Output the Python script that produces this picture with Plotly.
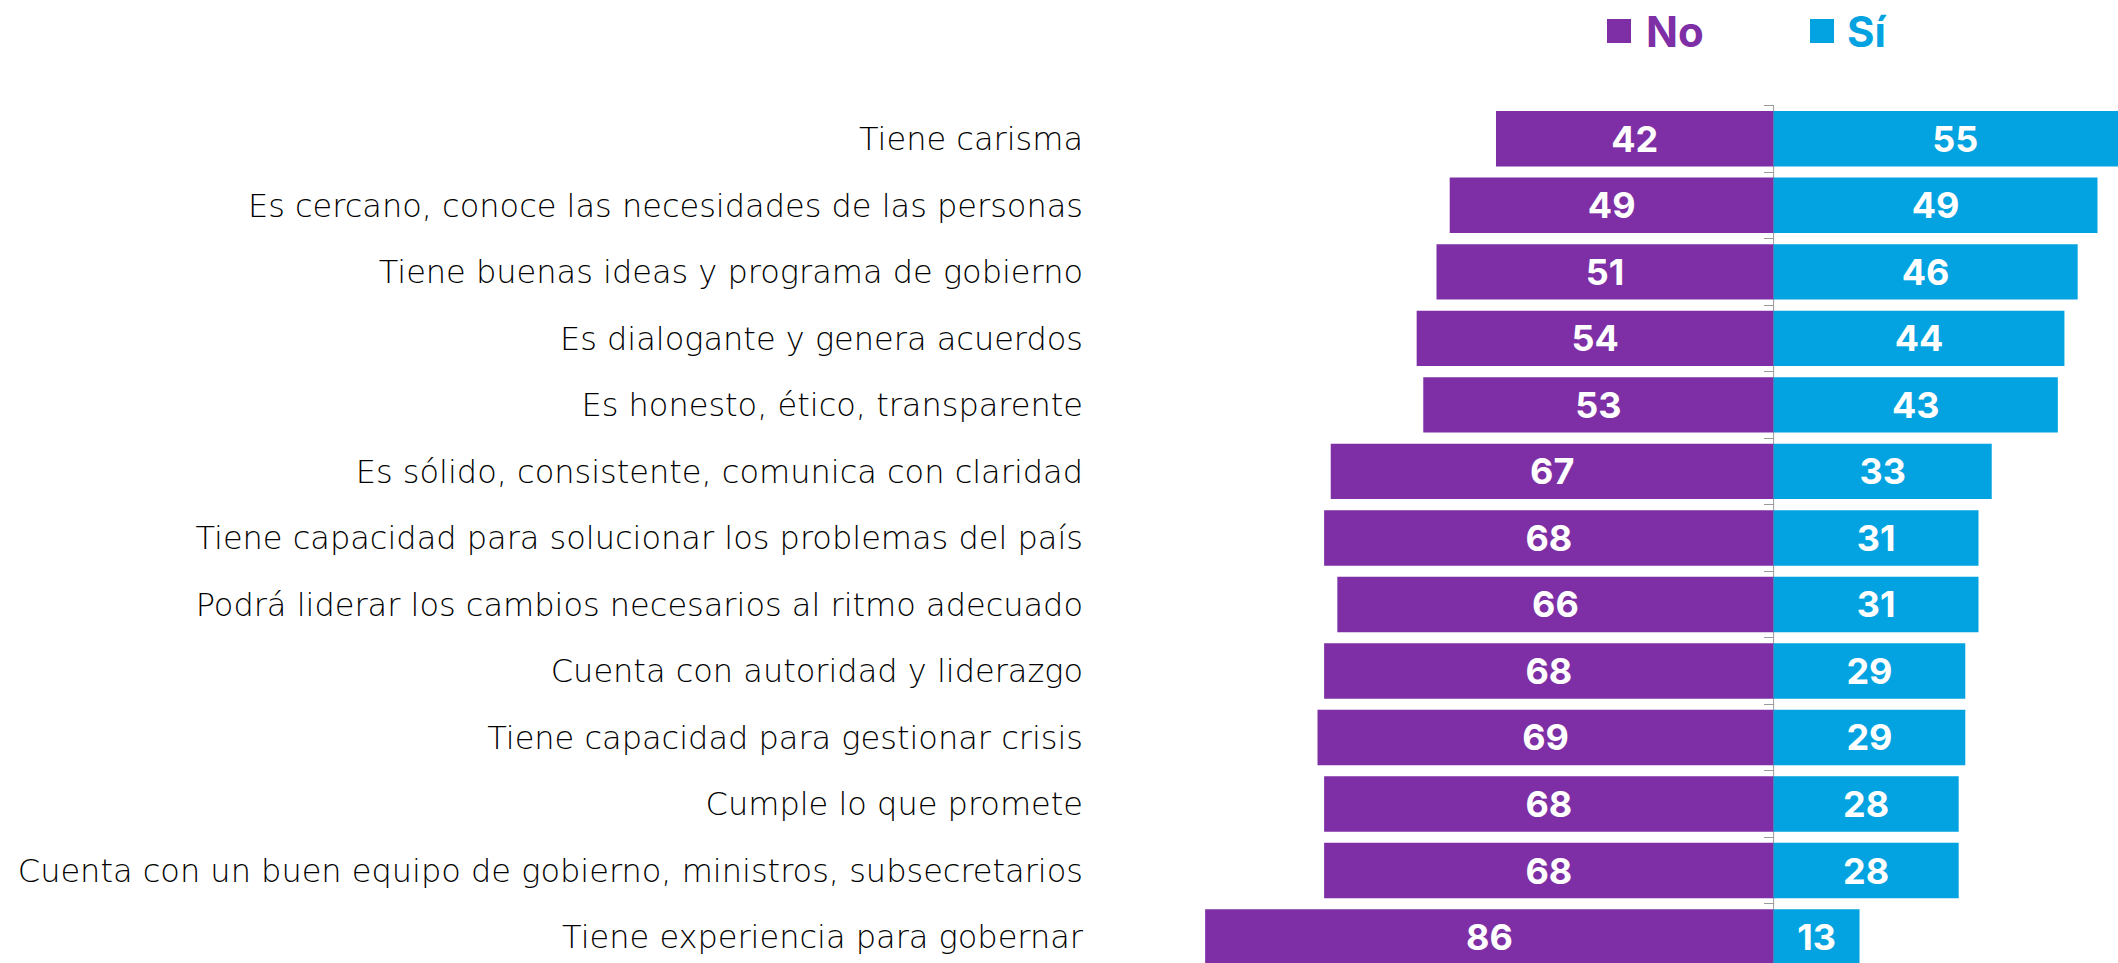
import plotly.graph_objects as go

categories = [
    "Tiene carisma",
    "Es cercano, conoce las necesidades de las personas",
    "Tiene buenas ideas y programa de gobierno",
    "Es dialogante y genera acuerdos",
    "Es honesto, ético, transparente",
    "Es sólido, consistente, comunica con claridad",
    "Tiene capacidad para solucionar los problemas del país",
    "Podrá liderar los cambios necesarios al ritmo adecuado",
    "Cuenta con autoridad y liderazgo",
    "Tiene capacidad para gestionar crisis",
    "Cumple lo que promete",
    "Cuenta con un buen equipo de gobierno, ministros, subsecretarios",
    "Tiene experiencia para gobernar",
]
no_values = [42, 49, 51, 54, 53, 67, 68, 66, 68, 69, 68, 68, 86]
si_values = [55, 49, 46, 44, 43, 33, 31, 31, 29, 29, 28, 28, 13]

PURPLE = "#7E2FA5"
BLUE = "#02A3E0"
FONT = "Inter"
LABEL_FONT = "DejaVu Sans"

W, H = 2118, 963
ML, MR, MT, MB = 1095, 0, 90, 0
center_px = 1773.6
px_per_unit = 6.61
x_lo = -(center_px - ML) / px_per_unit
x_hi = (W - MR - center_px) / px_per_unit
row_px = 66.52
first_center = 138.8
n = len(categories)
y_top = -(first_center - MT) / row_px
y_bot = (n - 1) + (H - MB - (first_center + (n - 1) * row_px)) / row_px

fig = go.Figure()
fig.add_trace(go.Bar(
    y=categories, x=[-v for v in no_values], orientation="h", name="No",
    marker=dict(color=PURPLE, line=dict(width=0)),
    text=[str(v) for v in no_values], textposition="inside",
    insidetextanchor="middle", textangle=0,
    textfont=dict(family=FONT, size=36, color="white", weight="bold"),
    hoverinfo="skip",
))
fig.add_trace(go.Bar(
    y=categories, x=si_values, orientation="h", name="Sí",
    marker=dict(color=BLUE, line=dict(width=0)),
    text=[str(v) for v in si_values], textposition="inside",
    insidetextanchor="middle", textangle=0,
    textfont=dict(family=FONT, size=36, color="white", weight="bold"),
    hoverinfo="skip",
))
# dummy trace to carry the centre tick axis
fig.add_trace(go.Scatter(
    y=categories, x=[0] * n, yaxis="y2", mode="markers",
    marker=dict(opacity=0), showlegend=False, hoverinfo="skip",
))

pos = (center_px - ML) / (W - ML - MR)

fig.update_layout(
    width=W, height=H,
    margin=dict(l=ML, r=MR, t=MT, b=MB, pad=0),
    paper_bgcolor="white", plot_bgcolor="white",
    barmode="relative", bargap=0.167,
    showlegend=False,
    font=dict(family=FONT, color="#000000"),
    xaxis=dict(range=[x_lo, x_hi], showgrid=False, zeroline=False,
               showticklabels=False, showline=False, fixedrange=True),
    yaxis=dict(type="category", categoryorder="array", categoryarray=categories,
               range=[y_bot, y_top], showgrid=False, zeroline=False,
               showline=False, ticks="", automargin=False,
               tickfont=dict(family=LABEL_FONT, size=32, color="#000000", weight=200),
               ticklabelstandoff=11),
    yaxis2=dict(type="category", categoryorder="array", categoryarray=categories,
                range=[y_bot, y_top], overlaying="y", anchor="free",
                position=pos, side="left", showticklabels=False,
                ticks="outside", tickson="boundaries", ticklen=10,
                tickcolor="#9a9a9a", tickwidth=1, showline=False,
                showgrid=False, layer="below traces", automargin=False),
)

# centre axis line from the first boundary down
fig.add_shape(type="line", xref="x", yref="y", x0=0, x1=0, y0=-0.5, y1=y_bot,
              line=dict(color="#9a9a9a", width=1), layer="below")

for sx, tx, label, col in [(1607, 1644, "No", PURPLE), (1810, 1845, "Sí", BLUE)]:
    fig.add_shape(type="rect", xref="paper", yref="paper",
                  x0=(sx - ML) / (W - ML - MR), x1=(sx + 24 - ML) / (W - ML - MR),
                  y0=1 + (MT - 43) / (H - MT - MB), y1=1 + (MT - 19) / (H - MT - MB),
                  fillcolor=col, line=dict(width=0))
    fig.add_annotation(xref="paper", yref="paper",
                       x=(tx - ML) / (W - ML - MR), y=1 + (MT - 31) / (H - MT - MB),
                       xanchor="left", yanchor="middle", showarrow=False,
                       text=f"<b>{label}</b>",
                       font=dict(family=FONT, size=42, color=col))

fig.write_html("out.html", config={"displayModeBar": False},
               post_script="document.body.style.margin='0';")
